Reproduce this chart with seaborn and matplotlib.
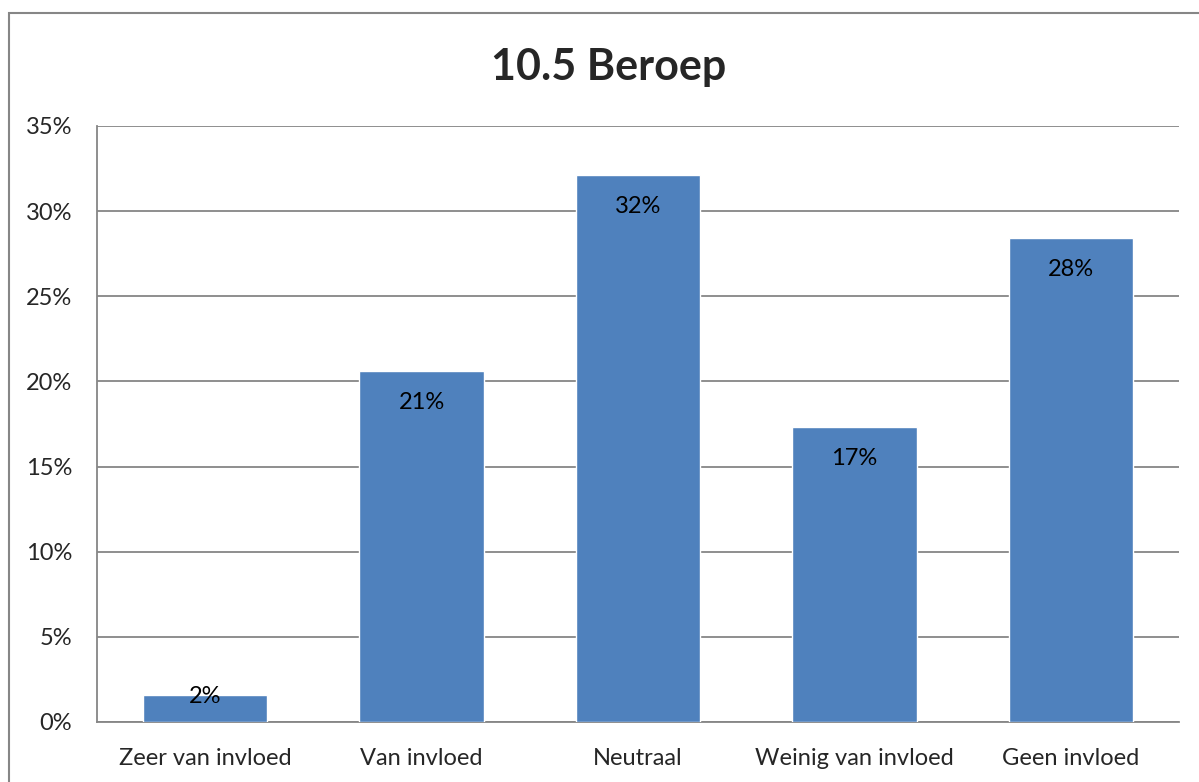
import seaborn as sns
import matplotlib.pyplot as plt
from matplotlib.patches import Rectangle
from matplotlib.ticker import PercentFormatter

categories = ["Zeer van invloed", "Van invloed", "Neutraal", "Weinig van invloed", "Geen invloed"]
values = [1.6, 20.6, 32.1, 17.3, 28.4]
labels = ["2%", "21%", "32%", "17%", "28%"]

sns.set_style("white")
plt.rcParams["font.family"] = ["Lato", "DejaVu Sans"]

fig = plt.figure(figsize=(11.99, 7.82), dpi=100)
ax = fig.add_axes([97 / 1199, 1 - 722 / 782, (1179 - 97) / 1199, (722 - 126) / 782])

sns.barplot(x=categories, y=values, color="#4F81BD", saturation=1, width=0.575, ax=ax, zorder=3)

ax.set_ylim(0, 35)
ax.set_yticks(range(0, 36, 5))
ax.yaxis.set_major_formatter(PercentFormatter(decimals=0))
ax.grid(axis="y", color="#868686", linewidth=1.3, zorder=0)
ax.tick_params(axis="y", length=0, pad=18, labelsize=17)
ax.tick_params(axis="x", length=0, pad=19, labelsize=17)
ax.set_xlabel("")
ax.set_ylabel("")
for side in ["top", "right"]:
    ax.spines[side].set_visible(False)
for side in ["left", "bottom"]:
    ax.spines[side].set_color("#868686")
    ax.spines[side].set_linewidth(1.3)

for i, (v, lab) in enumerate(zip(values, labels)):
    off = -2 if v < 3 else -31
    ax.annotate(lab, (i, v), xytext=(0, off), textcoords="offset pixels",
                ha="center", va="center", fontsize=17, color="black", zorder=5)

fig.text(609 / 1199, 1 - 67 / 782, "10.5 Beroep", ha="center", va="center",
         fontsize=31, fontweight="bold")

fig.patches.append(Rectangle((8.5 / 1199, -0.1), 2, (782 - 13) / 782 + 0.1,
                             transform=fig.transFigure, fill=False,
                             edgecolor="#868686", linewidth=1.5))

fig.savefig("out.png", dpi=100)
